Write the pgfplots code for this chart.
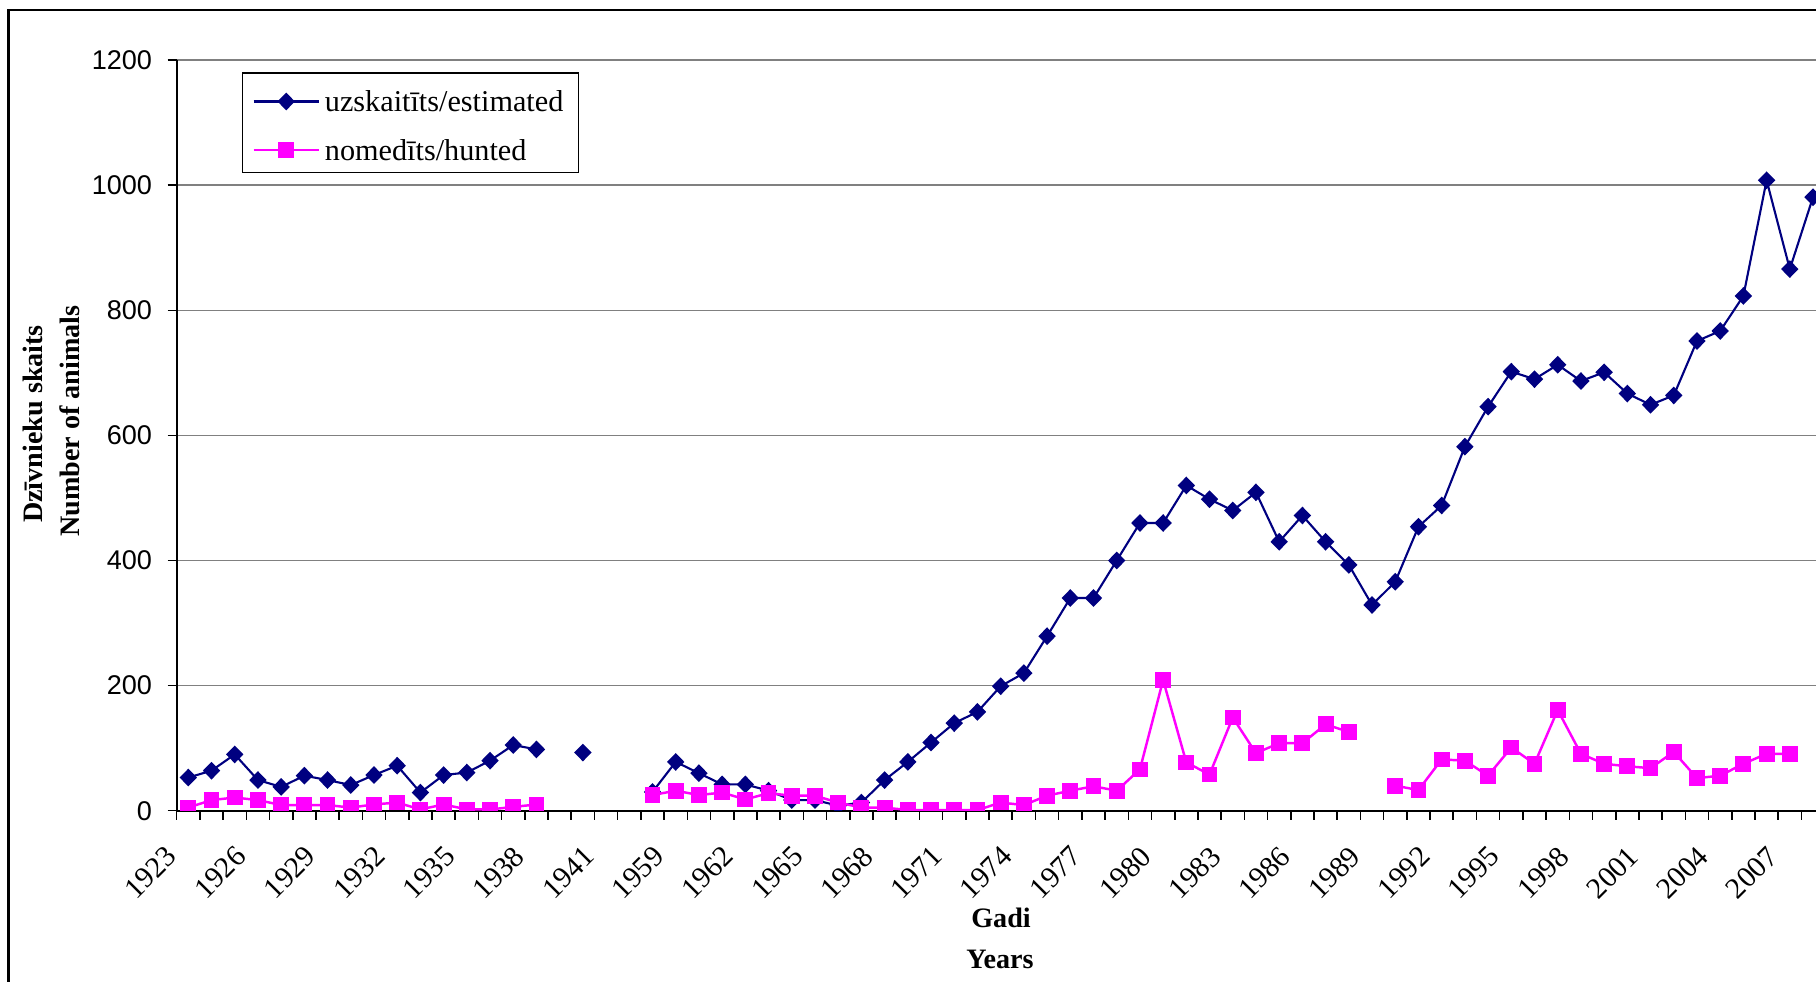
\documentclass[border=0pt]{standalone}
\usepackage{pgfplots}
\pgfplotsset{compat=1.18}
\usepackage{pgfplotstable}
\usepackage{fontspec}
\setmainfont{Liberation Serif}
\setsansfont{Liberation Sans}
\definecolor{estblue}{HTML}{000080}
\definecolor{huntpink}{HTML}{FF00FF}

% idx: category position (1923-1941, 1957-1958, 1959-2008)
\pgfplotstableread{
idx year est hunt
0 1923 53 5
1 1924 64 17
2 1925 90 21
3 1926 49 17
4 1927 38 9
5 1928 56 9
6 1929 49 9
7 1930 41 5
8 1931 57 10
9 1932 72 13
10 1933 29 2
11 1934 57 10
12 1935 61 2
13 1936 80 2
14 1937 105 6
15 1938 98 10
16 1939 nan nan
17 1940 93 nan
18 1941 nan nan
19 1957 nan nan
20 1958 30 25
21 1959 78 32
22 1960 60 25
23 1961 42 29
24 1962 42 18
25 1963 32 28
26 1964 17 24
27 1965 17 24
28 1966 8 13
29 1967 13 5
30 1968 49 5
31 1969 78 1
32 1970 109 1
33 1971 140 1
34 1972 158 1
35 1973 199 13
36 1974 220 9
37 1975 279 24
38 1976 340 32
39 1977 340 39
40 1978 400 32
41 1979 460 66
42 1980 460 209
43 1981 520 77
44 1982 498 58
45 1983 480 149
46 1984 509 92
47 1985 430 108
48 1986 472 108
49 1987 430 138
50 1988 393 126
51 1989 329 nan
52 1990 366 40
53 1991 454 33
54 1992 488 82
55 1993 582 80
56 1994 646 56
57 1995 702 101
58 1996 690 75
59 1997 713 161
60 1998 687 91
61 1999 701 75
62 2000 667 71
63 2001 649 68
64 2002 664 94
65 2003 751 52
66 2004 767 56
67 2005 823 75
68 2006 1008 91
69 2007 866 91
70 2008 981 nan
}\lynxdata

\begin{document}
\begin{tikzpicture}
\begin{axis}[
    at={(0,0)}, anchor=south west,
    scale only axis, width=163.93mm, height=75.05mm,
    xmin=-0.5, xmax=70.13, ymin=0, ymax=1200,
    axis lines*=left,
    axis line style={black, line width=0.5pt},
    clip marker paths=true,
    unbounded coords=jump,
    tick align=outside,
    xtick={-0.5,0.5,...,69.5}, xticklabels={},
    major tick length=0.9mm,
    extra x ticks={0,3,...,69},
    extra x tick labels={1923,1926,1929,1932,1935,1938,1941,1959,1962,1965,1968,1971,1974,1977,1980,1983,1986,1989,1992,1995,1998,2001,2004,2007},
    extra x tick style={major tick length=0pt},
    ytick={0,200,...,1200},
    ymajorgrids,
    major grid style={gray, line width=0.45pt},
    tick style={black, line width=0.45pt},
    xticklabel style={font=\fontsize{8.4}{10}\selectfont, xshift=-2.4mm, yshift=-3.3mm, rotate=45, anchor=north east, inner sep=0pt},
    yticklabel style={font=\sffamily\fontsize{7.7}{9}\selectfont, inner sep=0pt, xshift=-1.5mm},
    /pgf/number format/1000 sep={},
    /pgf/number format/assume math mode=true,
    legend style={at={(0.0397,0.9839)}, anchor=north west, draw=black, line width=0.4pt, fill=white,
        font=\fontsize{8.6}{10}\selectfont, inner xsep=1mm, inner ysep=0.3mm, row sep=0.36mm,
        nodes={inner sep=0.5mm, text height=3.1mm, text depth=0.4mm}},
    legend cell align=left,
    legend image code/.code={\draw[mark repeat=2,mark phase=2,#1] plot coordinates {(0mm,-0.3mm) (3.25mm,-0.3mm) (6.5mm,-0.3mm)};},
]
\addplot[estblue, line width=0.6pt, mark=diamond*, mark size=2.1pt, mark options={solid, xscale=1.3}]
    table[x=idx, y=est]{\lynxdata};
\addlegendentry{uzskaitīts/estimated}
\addplot[huntpink, line width=0.7pt, mark=square*, mark size=1.9pt, mark options={solid}]
    table[x=idx, y=hunt]{\lynxdata};
\addlegendentry{nomedīts/hunted}
\end{axis}
\begin{scope}[x=0.1mm, y=-0.1mm, shift={(-17.67mm,81.07mm)}]
    \node[font=\bfseries\fontsize{8}{9}\selectfont] at (1001,918) {Gadi};
    \node[font=\bfseries\fontsize{8}{9}\selectfont] at (1000,959) {Years};
    \node[font=\bfseries\fontsize{8}{9}\selectfont, rotate=90] at (33,424) {Dzīvnieku skaits};
    \node[font=\bfseries\fontsize{8}{9}\selectfont, rotate=90] at (70,421) {Number of animals};
    \draw[line width=0.8pt] (8.5,1000) -- (8.5,10) -- (1830,10);
\end{scope}
\pgfresetboundingbox
\path[use as bounding box] (-17.67mm,-17.13mm) rectangle (163.93mm,81.07mm);
\end{tikzpicture}
\end{document}
